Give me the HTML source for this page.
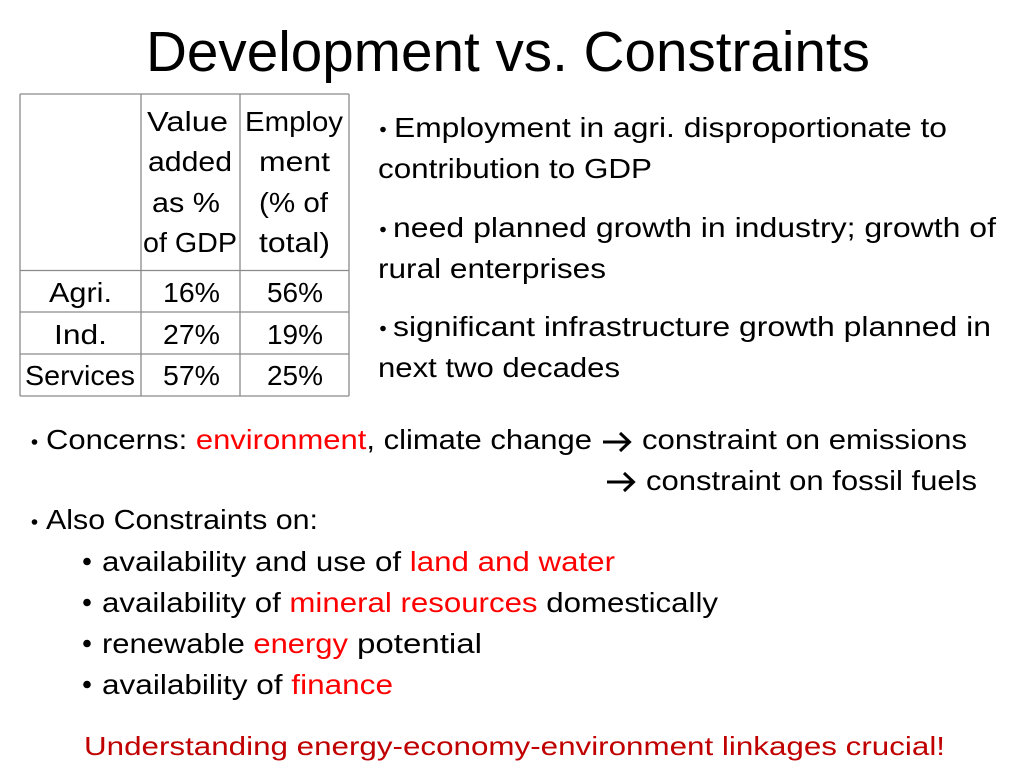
<!DOCTYPE html>
<html>
<head>
<meta charset="utf-8">
<style>
  html, body { margin:0; padding:0; background:#fff; }
  body { width:1024px; height:768px; position:relative; overflow:hidden;
         font-family:"Liberation Sans", "DejaVu Sans", sans-serif; color:#000; }
  .t { position:absolute; white-space:nowrap; line-height:1; font-size:28px;
       transform-origin:0 0; transform:scaleX(0.9); }
  .r { color:#ff0000; }
  svg { position:absolute; left:0; top:0; }
</style>
</head>
<body>
<svg width="1024" height="768" viewBox="0 0 1024 768">
  <!-- table grid -->
  <g stroke="#8a8a8a" stroke-width="1.3" fill="none">
    <line x1="20" y1="94" x2="349" y2="94"/>
    <line x1="20" y1="270.5" x2="349" y2="270.5"/>
    <line x1="20" y1="312" x2="349" y2="312"/>
    <line x1="20" y1="354" x2="349" y2="354"/>
    <line x1="20" y1="396" x2="349" y2="396"/>
    <line x1="20" y1="94" x2="20" y2="396"/>
    <line x1="141" y1="94" x2="141" y2="396"/>
    <line x1="240" y1="94" x2="240" y2="396"/>
    <line x1="349" y1="94" x2="349" y2="396"/>
  </g>
  <!-- bullets -->
  <g fill="#000">
    <circle cx="383" cy="129.5" r="2.8"/>
    <circle cx="383" cy="229.5" r="2.8"/>
    <circle cx="383" cy="328.5" r="2.8"/>
    <circle cx="34.5" cy="442" r="2.8"/>
    <circle cx="34.5" cy="522" r="2.8"/>
    <circle cx="87" cy="561.5" r="3.8"/>
    <circle cx="87" cy="602.5" r="3.8"/>
    <circle cx="87" cy="643.5" r="3.8"/>
    <circle cx="87" cy="684.5" r="3.8"/>
  </g>
  <!-- arrows -->
  <g stroke="#000" stroke-width="3" fill="none" stroke-linecap="butt" stroke-linejoin="miter">
    <line x1="603" y1="442" x2="629" y2="442"/>
    <polyline points="620,433 629.5,442 620,451"/>
    <line x1="607" y1="482" x2="633" y2="482"/>
    <polyline points="624,473 633.5,482 624,491"/>
  </g>
</svg>

<!-- Title -->
<div class="t" style="left:146px;top:23.75px;font-size:57px;--w:724">Development vs. Constraints</div>

<!-- Table header -->
<div class="t" style="left:147px;top:108.3px;--w:81">Value</div>
<div class="t" style="left:148px;top:148.3px;--w:84">added</div>
<div class="t" style="left:152px;top:188.8px;--w:68">as %</div>
<div class="t" style="left:143px;top:229.3px;--w:94">of GDP</div>
<div class="t" style="left:245px;top:108.3px;--w:98">Employ</div>
<div class="t" style="left:259px;top:148.3px;--w:71">ment</div>
<div class="t" style="left:259px;top:188.8px;--w:69">(% of</div>
<div class="t" style="left:259px;top:229.3px;--w:71">total)</div>

<!-- Table rows -->
<div class="t" style="left:49px;top:279.3px;--w:63">Agri.</div>
<div class="t" style="left:163px;top:279.3px;--w:57">16%</div>
<div class="t" style="left:267px;top:279.3px;--w:56">56%</div>
<div class="t" style="left:54px;top:320.8px;--w:53">Ind.</div>
<div class="t" style="left:163px;top:320.8px;--w:57">27%</div>
<div class="t" style="left:267px;top:320.8px;--w:56">19%</div>
<div class="t" style="left:25px;top:362.3px;--w:110">Services</div>
<div class="t" style="left:163px;top:362.3px;--w:57">57%</div>
<div class="t" style="left:267px;top:362.3px;--w:56">25%</div>

<!-- Right bullets -->
<div class="t" style="left:394px;top:114.3px;--w:553">Employment in agri. disproportionate to</div>
<div class="t" style="left:378px;top:155.3px;--w:274">contribution to GDP</div>
<div class="t" style="left:393px;top:214.3px;--w:603">need planned growth in industry; growth of</div>
<div class="t" style="left:378px;top:255.3px;--w:228">rural enterprises</div>
<div class="t" style="left:393px;top:313.3px;--w:598">significant infrastructure growth planned in</div>
<div class="t" style="left:378px;top:354.3px;--w:242">next two decades</div>

<!-- Bottom section -->
<div class="t" style="left:46px;top:426.3px;--w:546">Concerns: <span class="r">environment</span>, climate change</div>
<div class="t" style="left:642px;top:426.3px;--w:325">constraint on emissions</div>
<div class="t" style="left:646px;top:467.3px;--w:331">constraint on fossil fuels</div>
<div class="t" style="left:46px;top:506.3px;--w:272">Also Constraints on:</div>
<div class="t" style="left:102px;top:548.3px;--w:513">availability and use of <span class="r">land and water</span></div>
<div class="t" style="left:102px;top:589.3px;--w:616">availability of <span class="r">mineral resources</span> domestically</div>
<div class="t" style="left:102px;top:630.3px;--w:246">renewable <span class="r">energy</span></div>
<div class="t" style="left:357px;top:630.3px;--w:125">potential</div>
<div class="t" style="left:102px;top:671.3px;--w:291">availability of <span class="r">finance</span></div>

<div class="t" style="left:84px;top:733px;font-size:26px;color:#c00000;--w:861">Understanding energy-economy-environment linkages crucial!</div>

<script>
(function(){
  function fit(){
    var els = document.querySelectorAll('.t');
    for (var i=0;i<els.length;i++){
      var e = els[i];
      var w = parseFloat(e.style.getPropertyValue('--w'));
      if (!w) continue;
      e.style.transform = 'none';
      var n = e.getBoundingClientRect().width;
      if (n > 0) e.style.transform = 'scaleX(' + (w/n) + ')';
    }
  }
  fit();
  if (document.fonts && document.fonts.ready) document.fonts.ready.then(fit);
  window.addEventListener('load', fit);
})();
</script>
</body>
</html>
